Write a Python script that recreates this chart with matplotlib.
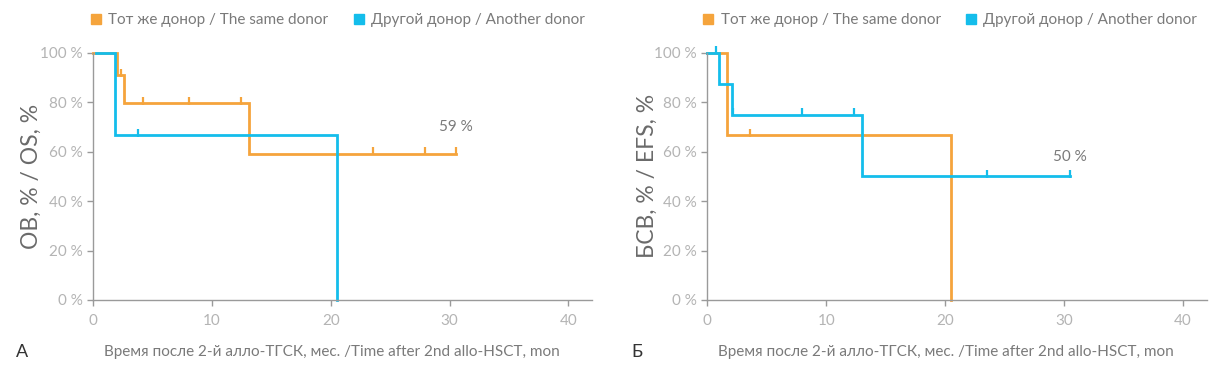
import matplotlib
matplotlib.use("Agg")
import matplotlib.pyplot as plt
from matplotlib.lines import Line2D

# ---- data ----
# OS panel (A)
os_same_t = [0, 2.0, 2.6, 13.1, 30.5]
os_same_s = [100, 90.9, 79.5, 59.1, 59.1]
os_same_cens_t = [2.3, 4.2, 8.05, 12.4, 23.55, 27.9, 30.5]
os_same_cens_s = [90.9, 79.5, 79.5, 79.5, 59.1, 59.1, 59.1]

os_other_t = [0.2, 1.82, 20.5, 20.5]
os_other_s = [100, 66.7, 0, 0]
os_other_cens_t = [3.75]
os_other_cens_s = [66.7]

# EFS panel (B)
efs_same_t = [0, 1.65, 20.5, 20.5]
efs_same_s = [100, 66.7, 0, 0]
efs_same_cens_t = [3.6]
efs_same_cens_s = [66.7]

efs_other_t = [0, 1.0, 2.07, 13.0, 30.5]
efs_other_s = [100, 87.5, 75.0, 50.0, 50.0]
efs_other_cens_t = [0.73, 2.2, 8.0, 12.3, 23.55, 30.5]
efs_other_cens_s = [100, 75.0, 75.0, 75.0, 50.0, 50.0]

x_ticks = [0, 10, 20, 30, 40]
y_ticks = [0, 20, 40, 60, 80, 100]
y_ticklabels = ["0 %", "20 %", "40 %", "60 %", "80 %", "100 %"]
legend_labels = ["Тот же донор / The same donor", "Другой донор / Another donor"]
xlabel = "Время после 2-й алло-ТГСК, мес. /Time after 2nd allo-HSCT, mon"
ylabels = ["ОВ, % / OS, %", "БСВ, % / EFS, %"]
panel_letters = ["А", "Б"]
annot = [("59 %", 30.5, 70), ("50 %", 30.5, 58)]

ORANGE = "#F5A43C"
BLUE = "#14BDEB"
SPINE = "#9a9a9a"
TICKTXT = "#b4b4b4"
TXT = "#7a7a7a"

plt.rcParams['font.family'] = ['Lato', 'DejaVu Sans']

fig = plt.figure(figsize=(12.29, 3.68), dpi=100)
axA = fig.add_axes([0.0759, 0.1848, 0.4060, 0.672])
axB = fig.add_axes([0.5755, 0.1848, 0.4064, 0.672])


def km(ax, t, s, color, ct, cs):
    ax.step(t, s, where="post", color=color, lw=2.0, clip_on=False, solid_joinstyle="miter")
    ax.plot(ct, [v + 1.0 for v in cs], linestyle="none", marker="|", ms=6,
            mew=1.6, color=color, clip_on=False)


km(axA, os_same_t, os_same_s, ORANGE, os_same_cens_t, os_same_cens_s)
km(axA, os_other_t, os_other_s, BLUE, os_other_cens_t, os_other_cens_s)
km(axB, efs_same_t, efs_same_s, ORANGE, efs_same_cens_t, efs_same_cens_s)
km(axB, efs_other_t, efs_other_s, BLUE, efs_other_cens_t, efs_other_cens_s)

leg_x = [0.488, 0.484]
for i, ax in enumerate([axA, axB]):
    ax.set_xlim(0, 42)
    ax.set_ylim(0, 100)
    ax.set_xticks(x_ticks)
    ax.set_yticks(y_ticks)
    ax.set_yticklabels(y_ticklabels)
    for sp in ["top", "right"]:
        ax.spines[sp].set_visible(False)
    for sp in ["left", "bottom"]:
        ax.spines[sp].set_color(SPINE)
        ax.spines[sp].set_linewidth(1.0)
    ax.tick_params(colors=SPINE, labelcolor=TICKTXT, length=4, width=1.0,
                   labelsize=11)
    ax.tick_params(axis="x", pad=6)
    ax.set_xlabel(xlabel, fontsize=11, color=TXT)
    ax.xaxis.set_label_coords(0.478, -0.182)
    ax.set_ylabel(ylabels[i], fontsize=16.5, color="#6a6a6a", labelpad=4)
    txt, xx, yy = annot[i]
    ax.text(xx, yy, txt, ha="center", va="center", fontsize=11, color=TXT)
    handles = [Line2D([], [], marker="s", linestyle="none", color=ORANGE, ms=7),
               Line2D([], [], marker="s", linestyle="none", color=BLUE, ms=7)]
    leg = ax.legend(handles, legend_labels, loc="center", bbox_to_anchor=(leg_x[i], 1.132),
                    ncol=2, frameon=False, fontsize=11, handletextpad=0.3,
                    columnspacing=1.5, handlelength=1.0, borderaxespad=0)
    for t in leg.get_texts():
        t.set_color(TXT)

axA.yaxis.set_label_coords(-0.103, 0.5)
axB.yaxis.set_label_coords(-0.099, 0.5)

fig.text(22 / 1229, 1 - 352 / 368, panel_letters[0], fontsize=13, color="#333333",
         ha="center", va="center")
fig.text(637 / 1229, 1 - 352 / 368, panel_letters[1], fontsize=13, color="#333333",
         ha="center", va="center")

fig.savefig("out.png", dpi=100)
